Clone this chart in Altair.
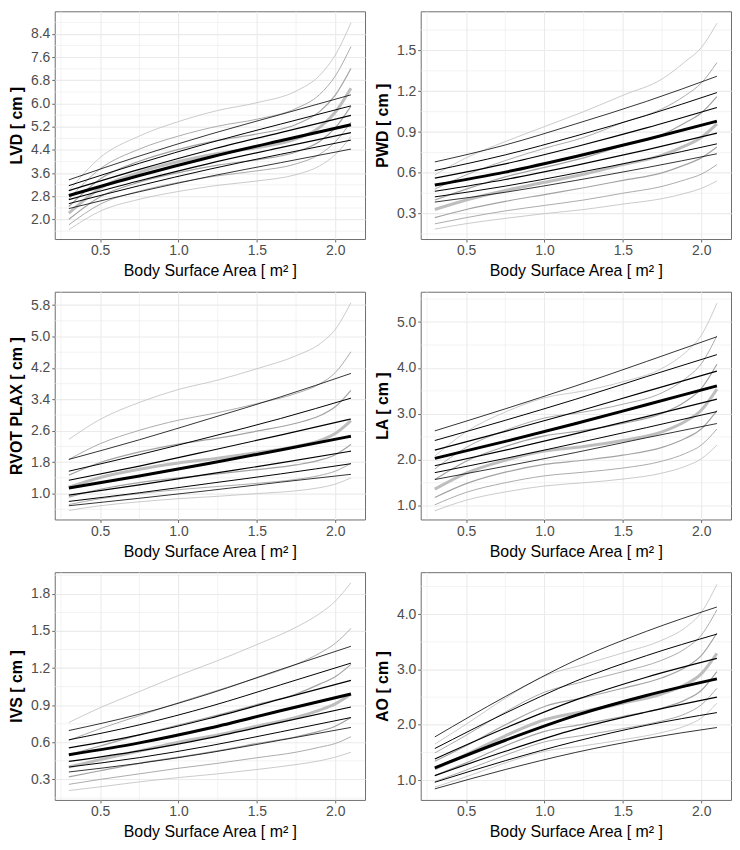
import altair as alt
import pandas as pd

# ---------------- data ----------------
X_GRAY = [0.3, 0.5, 0.75, 1.0, 1.25, 1.5, 1.75, 1.9, 2.0, 2.1]
X_BLACK = [0.3, 0.75, 1.2, 1.65, 2.1]
SERIES_GRAY = ["g1", "g2", "g3", "g4", "g5", "g6", "g7"]
SERIES_BLACK = ["b1", "b2", "b3", "b4", "b5", "b6", "b7"]

X_TICKS = [0.5, 1.0, 1.5, 2.0]
X_MINOR = [0.25, 0.75, 1.25, 1.75]
X_DOMAIN = [0.21, 2.19]
X_TITLE = "Body Surface Area [ m² ]"

# LVD
LVD_GRAY = [
    [2.99, 4.14, 4.88, 5.38, 5.76, 6.03, 6.43, 6.97, 7.67, 8.78],
    [2.71, 3.75, 4.43, 4.88, 5.22, 5.46, 5.83, 6.31, 6.95, 7.96],
    [2.45, 3.40, 4.01, 4.42, 4.73, 4.95, 5.28, 5.72, 6.29, 7.21],
    [2.22, 3.08, 3.63, 4.00, 4.28, 4.48, 4.78, 5.18, 5.70, 6.53],
    [2.01, 2.79, 3.29, 3.62, 3.88, 4.06, 4.33, 4.69, 5.16, 5.91],
    [1.82, 2.53, 2.98, 3.28, 3.51, 3.68, 3.92, 4.25, 4.68, 5.36],
    [1.65, 2.29, 2.70, 2.97, 3.18, 3.33, 3.55, 3.85, 4.24, 4.86],
]
LVD_BLACK = [
    [3.37, 4.19, 4.94, 5.62, 6.30],
    [3.17, 3.94, 4.65, 5.29, 5.92],
    [3.00, 3.73, 4.40, 5.00, 5.59],
    [2.83, 3.52, 4.15, 4.72, 5.27],
    [2.69, 3.34, 3.94, 4.48, 5.00],
    [2.55, 3.17, 3.74, 4.25, 4.74],
    [2.38, 2.96, 3.49, 3.96, 4.43],
]
LVD_TICKS = [2.0, 2.8, 3.6, 4.4, 5.2, 6.0, 6.8, 7.6, 8.4]
LVD_MINOR = [1.6, 2.4, 3.2, 4.0, 4.8, 5.6, 6.4, 7.2, 8.0, 8.8]
LVD_DOMAIN = [1.33, 9.18]

# PWD
PWD_GRAY = [
    [0.585, 0.71, 0.83, 0.94, 1.05, 1.17, 1.29, 1.42, 1.52, 1.70],
    [0.48, 0.585, 0.69, 0.78, 0.86, 0.97, 1.07, 1.17, 1.26, 1.41],
    [0.40, 0.48, 0.57, 0.64, 0.71, 0.80, 0.88, 0.97, 1.04, 1.16],
    [0.33, 0.40, 0.47, 0.53, 0.59, 0.66, 0.73, 0.80, 0.86, 0.96],
    [0.27, 0.33, 0.39, 0.44, 0.49, 0.545, 0.60, 0.66, 0.71, 0.79],
    [0.225, 0.27, 0.32, 0.36, 0.40, 0.45, 0.50, 0.55, 0.59, 0.66],
    [0.186, 0.226, 0.265, 0.30, 0.33, 0.37, 0.41, 0.45, 0.485, 0.54],
]
PWD_BLACK = [
    [0.68, 0.805, 0.96, 1.125, 1.31],
    [0.617, 0.732, 0.871, 1.022, 1.19],
    [0.561, 0.666, 0.792, 0.93, 1.08],
    [0.51, 0.605, 0.72, 0.845, 0.98],
    [0.464, 0.551, 0.655, 0.769, 0.892],
    [0.423, 0.502, 0.598, 0.701, 0.813],
    [0.385, 0.457, 0.544, 0.638, 0.74],
]
PWD_TICKS = [0.3, 0.6, 0.9, 1.2, 1.5]
PWD_MINOR = [0.15, 0.45, 0.75, 1.05, 1.35, 1.65]
PWD_DOMAIN = [0.113, 1.788]

# RVOT PLAX
RVOT_GRAY = [
    [2.38, 2.89, 3.32, 3.65, 3.89, 4.18, 4.51, 4.81, 5.18, 5.86],
    [1.87, 2.27, 2.61, 2.87, 3.06, 3.29, 3.55, 3.79, 4.08, 4.61],
    [1.47, 1.79, 2.06, 2.26, 2.41, 2.59, 2.79, 2.98, 3.21, 3.63],
    [1.16, 1.41, 1.62, 1.78, 1.90, 2.04, 2.20, 2.35, 2.53, 2.86],
    [0.91, 1.11, 1.28, 1.40, 1.50, 1.61, 1.73, 1.85, 1.99, 2.25],
    [0.72, 0.87, 1.00, 1.10, 1.18, 1.26, 1.36, 1.46, 1.57, 1.77],
    [0.57, 0.69, 0.79, 0.87, 0.93, 1.00, 1.07, 1.15, 1.24, 1.40],
]
RVOT_BLACK = [
    [1.87, 2.37, 2.91, 3.46, 4.06],
    [1.57, 1.99, 2.44, 2.91, 3.43],
    [1.34, 1.70, 2.09, 2.49, 2.90],
    [1.14, 1.445, 1.77, 2.11, 2.46],
    [0.96, 1.22, 1.50, 1.78, 2.08],
    [0.80, 1.02, 1.26, 1.50, 1.76],
    [0.69, 0.88, 1.08, 1.29, 1.49],
]
RVOT_TICKS = [1.0, 1.8, 2.6, 3.4, 4.2, 5.0, 5.8]
RVOT_MINOR = [0.6, 1.4, 2.2, 3.0, 3.8, 4.6, 5.4]
RVOT_DOMAIN = [0.34, 6.14]

# LA
LA_GRAY = [
    [2.08, 2.61, 3.04, 3.35, 3.50, 3.70, 3.99, 4.34, 4.71, 5.41],
    [1.80, 2.27, 2.64, 2.91, 3.04, 3.21, 3.46, 3.77, 4.09, 4.70],
    [1.57, 1.97, 2.29, 2.52, 2.64, 2.79, 3.01, 3.27, 3.55, 4.08],
    [1.36, 1.71, 1.99, 2.19, 2.29, 2.42, 2.61, 2.84, 3.08, 3.54],
    [1.18, 1.48, 1.73, 1.90, 1.99, 2.10, 2.27, 2.47, 2.67, 3.07],
    [1.02, 1.29, 1.50, 1.65, 1.73, 1.82, 1.97, 2.14, 2.32, 2.67],
    [0.89, 1.12, 1.30, 1.43, 1.50, 1.58, 1.71, 1.86, 2.02, 2.32],
]
LA_BLACK = [
    [2.63, 3.11, 3.61, 4.14, 4.68],
    [2.42, 2.86, 3.32, 3.81, 4.29],
    [2.21, 2.62, 3.04, 3.49, 3.93],
    [2.03, 2.40, 2.79, 3.20, 3.61],
    [1.87, 2.21, 2.57, 2.94, 3.32],
    [1.72, 2.03, 2.36, 2.70, 3.05],
    [1.57, 1.86, 2.16, 2.48, 2.79],
]
LA_TICKS = [1.0, 2.0, 3.0, 4.0, 5.0]
LA_MINOR = [1.5, 2.5, 3.5, 4.5, 5.5]
LA_DOMAIN = [0.70, 5.66]

# IVS
IVS_GRAY = [
    [0.76, 0.88, 1.01, 1.14, 1.26, 1.39, 1.53, 1.64, 1.74, 1.89],
    [0.615, 0.71, 0.815, 0.92, 1.02, 1.12, 1.23, 1.32, 1.40, 1.52],
    [0.50, 0.57, 0.66, 0.74, 0.82, 0.905, 0.99, 1.07, 1.13, 1.23],
    [0.40, 0.46, 0.53, 0.60, 0.66, 0.73, 0.80, 0.86, 0.91, 0.99],
    [0.32, 0.37, 0.43, 0.48, 0.53, 0.59, 0.645, 0.69, 0.73, 0.80],
    [0.26, 0.30, 0.345, 0.39, 0.43, 0.475, 0.52, 0.56, 0.59, 0.645],
    [0.21, 0.24, 0.28, 0.315, 0.345, 0.38, 0.42, 0.45, 0.48, 0.52],
]
IVS_BLACK = [
    [0.695, 0.827, 0.994, 1.188, 1.376],
    [0.62, 0.741, 0.89, 1.064, 1.24],
    [0.555, 0.66, 0.794, 0.949, 1.10],
    [0.50, 0.595, 0.715, 0.855, 0.99],
    [0.445, 0.53, 0.636, 0.761, 0.885],
    [0.40, 0.476, 0.572, 0.684, 0.80],
    [0.36, 0.43, 0.516, 0.617, 0.72],
]
IVS_TICKS = [0.3, 0.6, 0.9, 1.2, 1.5, 1.8]
IVS_MINOR = [0.15, 0.45, 0.75, 1.05, 1.35, 1.65, 1.95]
IVS_DOMAIN = [0.134, 1.975]

# AO
AO_GRAY = [
    [1.65, 2.01, 2.48, 2.88, 3.09, 3.30, 3.53, 3.76, 4.03, 4.54],
    [1.49, 1.81, 2.23, 2.59, 2.78, 2.96, 3.17, 3.38, 3.62, 4.08],
    [1.34, 1.62, 2.00, 2.33, 2.49, 2.66, 2.85, 3.04, 3.25, 3.66],
    [1.20, 1.46, 1.80, 2.09, 2.24, 2.39, 2.56, 2.73, 2.92, 3.29],
    [1.08, 1.31, 1.62, 1.88, 2.01, 2.15, 2.30, 2.45, 2.62, 2.96],
    [0.97, 1.18, 1.45, 1.69, 1.81, 1.93, 2.07, 2.20, 2.36, 2.66],
    [0.87, 1.06, 1.31, 1.52, 1.62, 1.73, 1.86, 1.98, 2.12, 2.39],
]
AO_BLACK = [
    [1.78, 2.51, 3.17, 3.69, 4.13],
    [1.57, 2.21, 2.79, 3.25, 3.64],
    [1.38, 1.94, 2.45, 2.86, 3.20],
    [1.22, 1.72, 2.17, 2.53, 2.83],
    [1.08, 1.52, 1.92, 2.23, 2.50],
    [0.96, 1.35, 1.70, 1.99, 2.22],
    [0.84, 1.19, 1.50, 1.75, 1.95],
]
AO_TICKS = [1.0, 2.0, 3.0, 4.0]
AO_MINOR = [1.5, 2.5, 3.5, 4.5]
AO_DOMAIN = [0.64, 4.76]

# ---------------- styling ----------------
GRAY_STYLES = [
    (["g1", "g7"], "#BDBDBD", 0.8),
    (["g2", "g6"], "#ABABAB", 1.0),
    (["g3", "g5"], "#A3A3A3", 1.2),
    (["g4"], "#BEBEBE", 3.0),
]
BLACK_STYLES = [
    (["b1", "b7"], "#000000", 0.8),
    (["b2", "b6"], "#000000", 1.0),
    (["b3", "b5"], "#000000", 1.2),
    (["b4"], "#000000", 3.0),
]
GRID = "#EBEBEB"
FONT = "Liberation Sans"
W, H = 312, 229


def long_table(xs, rows, names):
    recs = []
    for name, row in zip(names, rows):
        for x, v in zip(xs, row):
            recs.append({"x": x, "y": v, "s": name})
    return pd.DataFrame(recs)


def panel(ytitle, gray, black, ticks, minor, domain):
    xs = alt.Scale(domain=X_DOMAIN, nice=False, zero=False)
    ys = alt.Scale(domain=domain, nice=False, zero=False)
    xaxis = alt.Axis(values=X_TICKS, format=".1f", title=X_TITLE)
    yaxis = alt.Axis(values=ticks, format=".1f", title=ytitle)

    layers = [
        alt.Chart(pd.DataFrame({"v": X_MINOR})).mark_rule(
            color=GRID, strokeWidth=0.6).encode(x=alt.X("v:Q", scale=xs, axis=xaxis)),
        alt.Chart(pd.DataFrame({"v": minor})).mark_rule(
            color=GRID, strokeWidth=0.6).encode(y=alt.Y("v:Q", scale=ys, axis=yaxis)),
    ]
    for xgrid, rows, names, styles in ((X_GRAY, gray, SERIES_GRAY, GRAY_STYLES),
                                       (X_BLACK, black, SERIES_BLACK, BLACK_STYLES)):
        df = long_table(xgrid, rows, names)
        for members, col, sw in styles:
            layers.append(
                alt.Chart(df[df["s"].isin(members)]).mark_line(
                    interpolate="monotone", color=col, strokeWidth=sw, clip=True
                ).encode(
                    x=alt.X("x:Q", scale=xs, axis=xaxis),
                    y=alt.Y("y:Q", scale=ys, axis=yaxis),
                    detail="s:N",
                )
            )
    return alt.layer(*layers).properties(width=W, height=H)


p1 = panel("LVD [ cm ]", LVD_GRAY, LVD_BLACK, LVD_TICKS, LVD_MINOR, LVD_DOMAIN)
p2 = panel("PWD [ cm ]", PWD_GRAY, PWD_BLACK, PWD_TICKS, PWD_MINOR, PWD_DOMAIN)
p3 = panel("RVOT PLAX [ cm ]", RVOT_GRAY, RVOT_BLACK, RVOT_TICKS, RVOT_MINOR, RVOT_DOMAIN)
p4 = panel("LA [ cm ]", LA_GRAY, LA_BLACK, LA_TICKS, LA_MINOR, LA_DOMAIN)
p5 = panel("IVS [ cm ]", IVS_GRAY, IVS_BLACK, IVS_TICKS, IVS_MINOR, IVS_DOMAIN)
p6 = panel("AO [ cm ]", AO_GRAY, AO_BLACK, AO_TICKS, AO_MINOR, AO_DOMAIN)

chart = alt.vconcat(
    alt.hconcat(p1, p2, spacing=8),
    alt.hconcat(p3, p4, spacing=8),
    alt.hconcat(p5, p6, spacing=8),
    spacing=11,
    padding={"left": 0, "top": 0, "right": 0, "bottom": 0},
    background="white",
).configure_view(
    stroke="#6E6E6E", strokeWidth=1
).configure_axis(
    labelFont=FONT, labelFontSize=14, labelColor="#4D4D4D", labelPadding=2,
    titleFont=FONT, titleFontSize=16, titleColor="#000000",
    tickColor="#666666", tickSize=3, domain=False,
    gridColor=GRID, gridWidth=1.1,
).configure_axisY(
    titleFontWeight="bold", titlePadding=6
).configure_axisX(
    titleFontWeight="normal", titlePadding=5
)

chart.save("out.html", embed_options={"renderer": "svg", "actions": False})
